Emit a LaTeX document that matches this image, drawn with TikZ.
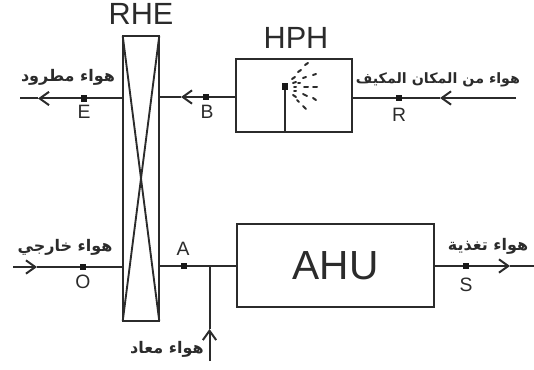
\documentclass[tikz,border=0pt]{standalone}
\usepackage{fontspec}
\setmainfont{Liberation Sans}
\newfontfamily\arabicfont[Script=Arabic]{DejaVu Sans}
\TeXXeTstate=1
\usetikzlibrary{arrows.meta}
\definecolor{ink}{HTML}{2B2B2B}
\tikzset{
  x=0.75pt,y=-0.75pt,
  unit/.style={draw=ink,line width=1.6pt,fill=none,rectangle,inner sep=0pt,outer sep=0pt,minimum width=#1},
  flow/.style={draw=ink,line width=1.5pt},
  flowarrow/.style={flow,-{Straight Barb[length=7pt,width=10pt,line width=1.5pt]}},
  pointmark/.style={fill=black!90,rectangle,inner sep=0pt,minimum size=4.6pt},
  letter/.style={text=ink,font=\fontsize{14.5pt}{16pt}\selectfont,inner sep=0pt},
  title/.style={text=ink,font=\fontsize{23pt}{25pt}\selectfont,inner sep=0pt},
  arlabel/.style={text=ink,font=\arabicfont\bfseries\fontsize{12pt}{14pt}\selectfont,inner sep=0pt},
  arwide/.style={arlabel,font=\arabicfont\bfseries\fontsize{10.7pt}{14pt}\selectfont},
  spraydash/.style={draw=ink,line width=1.5pt,line cap=round},
}
\begin{document}
\begin{tikzpicture}
\useasboundingbox (0,0) rectangle (534,370);
% units
\node[unit=27.4pt,minimum height=213.7pt] (rhe) at (141,178.5) {};
\node[unit=87pt,minimum height=54.7pt] (hph) at (294,95.5) {};
\node[unit=147.7pt,minimum height=62.2pt] (ahu) at (335.5,265.5) {\fontsize{30.5pt}{33pt}\selectfont\textcolor{ink}{AHU}};
\draw[ink,line width=1.4pt] (rhe.north west) -- (rhe.south east) (rhe.north east) -- (rhe.south west);
\node[title] (rhetitle) at (141,14) {RHE};
\node[title] (hphtitle) at (296,38) {HPH};
% state points
\node[pointmark] (E) at (84,98.5) {};
\node[pointmark] (B) at (206,97) {};
\node[pointmark] (R) at (399,98) {};
\node[pointmark] (O) at (83,267) {};
\node[pointmark] (A) at (184,266) {};
\node[pointmark] (S) at (466,266) {};
\node[letter] (Elabel) at (84,112) {E};
\node[letter] (Blabel) at (207,112) {B};
\node[letter] (Rlabel) at (399,115) {R};
\node[letter] (Olabel) at (83,282) {O};
\node[letter] (Alabel) at (183,249) {A};
\node[letter] (Slabel) at (466,285) {S};
% free ends and arrow tips
\coordinate (Eend) at (20,98.5);
\coordinate (Etip) at (38,98.5);
\coordinate (Btip) at (181,97);
\coordinate (Rin) at (516,98);
\coordinate (Rtip) at (440,98);
\coordinate (Oin) at (13,267);
\coordinate (Otip) at (37,267);
\coordinate (Stip) at (510,266);
\coordinate (Send) at (534,266);
\coordinate (junction) at (209.5,266);
\coordinate (Mix) at (209.5,361);
\coordinate (Mtip) at (209.5,329);
% connectors: each run is split at its arrow tip so no stretch is stroked twice
\draw[flow] (rhe.west |- E) -- (E);
\draw[flowarrow] (E) -- (Etip);
\draw[flow] (Etip) -- (Eend);
\draw[flow] (hph.west |- B) -- (B);
\draw[flowarrow] (B) -- (Btip);
\draw[flow] (Btip) -- (rhe.east |- B);
\draw[flowarrow] (Rin) -- (Rtip);
\draw[flow] (Rtip) -- (R) -- (hph.east |- R);
\draw[flowarrow] (Oin) -- (Otip);
\draw[flow] (Otip) -- (O) -- (rhe.west |- O);
\draw[flow] (rhe.east |- A) -- (A) -- (ahu.west |- A);
\draw[flow] (ahu.east |- S) -- (S);
\draw[flowarrow] (S) -- (Stip);
\draw[flow] (Stip) -- (Send);
\draw[flowarrow] (Mix) -- (Mtip);
\draw[flow] (Mtip) -- (junction);
% sprayer
\node[pointmark] (nozzle) at (285,86.5) {};
\draw[flow] (nozzle) -- (nozzle |- hph.south);
\foreach \xa/\ya/\xb/\yb in {
 305/65/308/63, 298/72/301/70, 292/79/295/77, 293/83/296/82, 294/87/296/87,
 294/91/296/91, 293/95/296/97, 297/100/299/102, 303/106/306/109,
 303/78/306/77, 313/75/316/74, 304/87/308/87, 313/87/317/87,
 303/94/307/96, 313/98/316/100, 298/83/300/83}
  \draw[spraydash] (\xa,\ya) -- (\xb,\yb);
% Arabic labels
\node[arlabel] (lE) at (68,77) {\beginR هواء مطرود\endR};
\node[arwide] (lR) at (438,80) {\beginR هواء من المكان المكيف\endR};
\node[arlabel] (lO) at (65,247) {\beginR هواء خارجي\endR};
\node[arlabel] (lS) at (488,246) {\beginR هواء تغذية\endR};
\node[arlabel] (lM) at (167,349) {\beginR هواء معاد\endR};
\end{tikzpicture}
\end{document}
